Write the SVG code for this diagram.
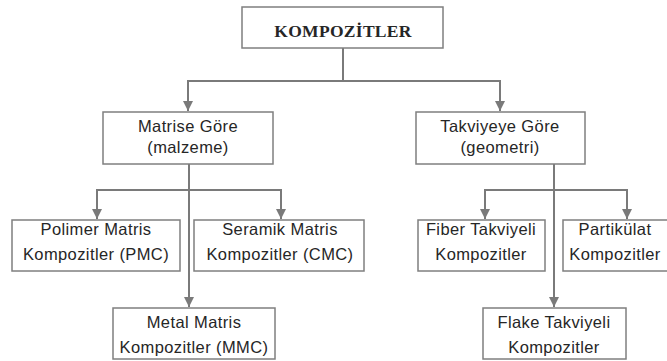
<svg xmlns="http://www.w3.org/2000/svg" width="667" height="361" viewBox="0 0 667 361">
<style>
.box{fill:#fff;stroke:#7f7f7f;stroke-width:1.5}
.t{font-family:"Liberation Sans",Arial,sans-serif;font-size:16.5px;fill:#262626;text-anchor:middle;letter-spacing:0.4px}
.title{font-family:"Liberation Serif","Times New Roman",serif;font-weight:bold;font-size:17.5px;fill:#262626;text-anchor:middle;letter-spacing:0.3px}
.ln{fill:none;stroke:#7a7a7a;stroke-width:2}
</style>
<defs>
<marker id="ah" viewBox="0 0 10 10" refX="10" refY="5" markerWidth="10" markerHeight="10" markerUnits="userSpaceOnUse" orient="auto">
<path d="M0,0 L10,5 L0,10 z" fill="#7a7a7a"/>
</marker>
</defs>
<rect width="667" height="361" fill="#fff"/>
<g id="connectors">
<path class="ln" d="M343,48 V81"/>
<path class="ln" d="M188,81 H500"/>
<path class="ln" d="M188,80 V111" marker-end="url(#ah)"/>
<path class="ln" d="M500,80 V111" marker-end="url(#ah)"/>
<path class="ln" d="M189,164 V307" marker-end="url(#ah)"/>
<path class="ln" d="M97,190 H281"/>
<path class="ln" d="M97,189 V219" marker-end="url(#ah)"/>
<path class="ln" d="M281,189 V219" marker-end="url(#ah)"/>
<path class="ln" d="M554,164 V307" marker-end="url(#ah)"/>
<path class="ln" d="M485,190 H627"/>
<path class="ln" d="M485,189 V219" marker-end="url(#ah)"/>
<path class="ln" d="M627,189 V219" marker-end="url(#ah)"/>
</g>
<g id="kompozitler">
<rect class="box" x="242" y="7" width="201" height="41"/>
<text class="title" x="343" y="37">KOMPOZİTLER</text>
</g>
<g id="matrise">
<rect class="box" x="103" y="112" width="170" height="52"/>
<text class="t" x="188" y="132">Matrise Göre</text>
<text class="t" x="188" y="153">(malzeme)</text>
</g>
<g id="takviyeye">
<rect class="box" x="416" y="112" width="169" height="52"/>
<text class="t" x="500" y="132">Takviyeye Göre</text>
<text class="t" x="500" y="153">(geometri)</text>
</g>
<g id="polimer">
<rect class="box" x="12" y="220" width="168" height="51"/>
<text class="t" x="96" y="235">Polimer Matris</text>
<text class="t" x="96" y="260">Kompozitler (PMC)</text>
</g>
<g id="seramik">
<rect class="box" x="194" y="220" width="170" height="51"/>
<text class="t" x="280" y="235">Seramik Matris</text>
<text class="t" x="280" y="260">Kompozitler (CMC)</text>
</g>
<g id="metal">
<rect class="box" x="113" y="308" width="162" height="51"/>
<text class="t" x="194" y="328">Metal Matris</text>
<text class="t" x="194" y="353">Kompozitler (MMC)</text>
</g>
<g id="fiber">
<rect class="box" x="418" y="220" width="127" height="51"/>
<text class="t" x="481" y="235">Fiber Takviyeli</text>
<text class="t" x="481" y="260">Kompozitler</text>
</g>
<g id="partikulat">
<rect class="box" x="563" y="220" width="110" height="51"/>
<text class="t" x="615" y="235">Partikülat</text>
<text class="t" x="615" y="260">Kompozitler</text>
</g>
<g id="flake">
<rect class="box" x="483" y="308" width="143" height="51"/>
<text class="t" x="554" y="328">Flake Takviyeli</text>
<text class="t" x="554" y="353">Kompozitler</text>
</g>
</svg>
